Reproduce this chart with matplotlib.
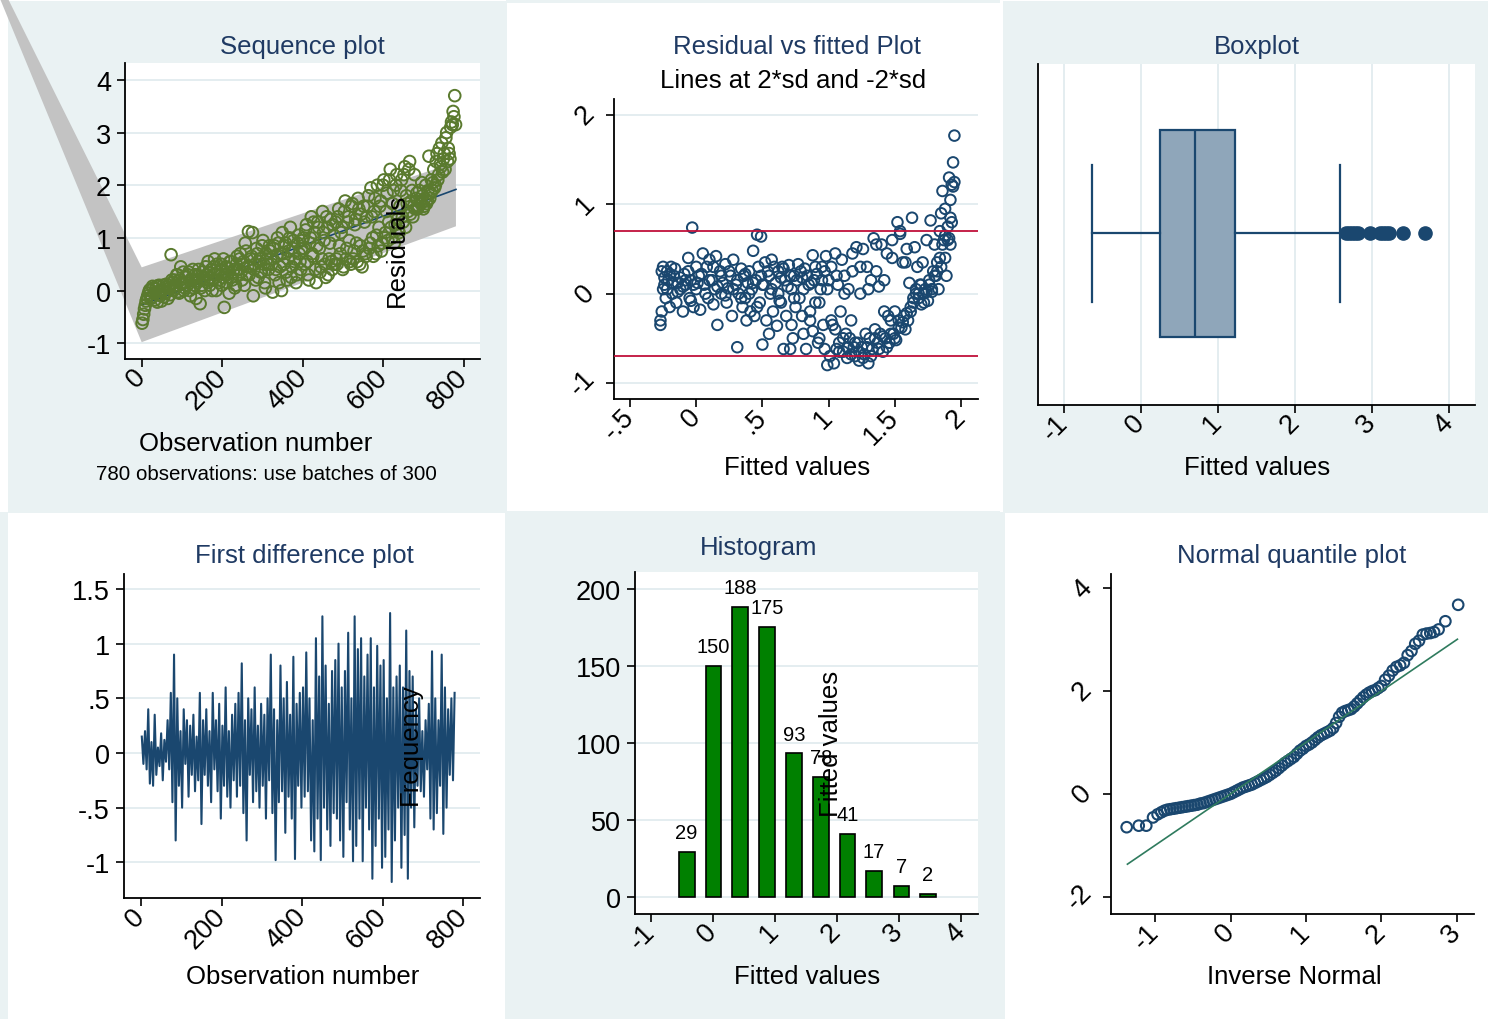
import matplotlib
matplotlib.use('Agg')
import matplotlib.pyplot as plt
from matplotlib.patches import Rectangle
import numpy as np

plt.rcParams['font.family'] = ['Liberation Sans', 'DejaVu Sans']

# ---------------------------------------------------------------
# data
# ---------------------------------------------------------------
# sequence plot (two interleaved samples, every 4th observation each)
seq_obs_a = np.arange(1, 781, 4)
seq_vals_a = [
    -0.62, -0.45, -0.28, -0.15, -0.05, 0.02, -0.12, 0.05, -0.18, 0.08, -0.08, 0.0, -0.2, 0.1, -0.05, 0.12, -0.15, 0.05, 0.68, 0.15,
    0.2, 0.05, 0.3, -0.05, 0.45, 0.15, 0.0, 0.25, 0.1, 0.35, -0.1, 0.2, 0.05, 0.3, 0.15, 0.4, -0.25, 0.1, 0.25, 0.0,
    0.3, 0.55, 0.1, 0.4, 0.2, 0.6, 0.0, 0.35, 0.15, 0.5, 0.25, -0.32, 0.45, 0.3, -0.05, 0.55, 0.2, 0.4, 0.1, 0.65,
    0.4, 0.7, 0.2, 0.55, 0.9, 0.3, 1.12, 0.45, 0.65, -0.1, 0.5, 0.8, 0.25, 0.6, 0.35, 0.95, 0.15, 0.7, 0.5, 0.85,
    0.6, -0.03, 0.85, 0.4, 1.0, 0.15, 0.7, 1.1, 0.5, 0.9, 0.2, 0.75, 1.2, 0.45, 0.95, 0.6, 0.3, 1.05, 0.55, 0.8,
    1.0, 0.5, 1.25, 0.3, 0.9, 1.4, 0.65, 1.1, 0.15, 1.3, 0.8, 0.45, 1.5, 0.95, 0.25, 1.2, 0.6, 1.35, 0.4, 1.05,
    1.3, 0.5, 1.55, 0.7, 1.2, 0.45, 1.7, 0.8, 1.4, 0.55, 1.6, 0.6, 1.25, 0.9, 1.75, 0.5, 1.45, 0.75, 1.3, 0.65,
    1.6, 0.8, 1.95, 1.0, 1.5, 0.7, 2.0, 1.2, 1.7, 0.9, 2.1, 1.1, 1.85, 1.3, 2.3, 1.0, 1.9, 1.25, 2.2, 1.15,
    1.6, 2.1, 1.3, 2.35, 1.8, 1.5, 2.45, 1.7, 1.4, 2.2, 1.75, 1.55, 1.9, 1.65, 1.8, 1.6, 2.0, 1.7, 2.55, 1.85,
    1.9, 2.3, 2.0, 2.6, 2.2, 2.4, 2.8, 2.5, 2.3, 3.0, 2.7, 2.5, 3.2, 3.4, 3.7,
]
seq_obs_b = np.arange(3, 781, 4)
seq_vals_b = [
    -0.55, -0.35, -0.2, -0.1, 0.0, -0.15, 0.08, -0.05, 0.03, -0.22, 0.1, -0.1, 0.0, -0.12, 0.06, -0.02, 0.1, -0.08, 0.2, 0.0,
    0.1, 0.3, -0.02, 0.2, 0.12, 0.35, 0.05, 0.15, 0.3, 0.0, 0.22, 0.4, 0.1, -0.15, 0.28, 0.18, 0.05, 0.35, 0.2, 0.45,
    0.15, 0.35, 0.25, 0.0, 0.45, 0.3, 0.5, 0.2, 0.38, 0.1, 0.6, 0.3, 0.15, 0.42, 0.55, 0.25, 0.35, 0.05, 0.5, 0.3,
    0.6, 0.35, 0.5, 0.1, 0.75, 0.45, 0.3, 0.6, 1.1, 0.4, 0.2, 0.7, 0.55, 0.35, 0.85, 0.5, 0.05, 0.6, 0.4, 0.75,
    0.5, 0.8, 0.3, 0.65, 0.9, 0.45, 0.0, 0.7, 0.85, 0.35, 0.6, 1.0, 0.25, 0.8, 0.55, 0.15, 0.9, 0.7, 0.4, 0.95,
    0.8, 1.15, 0.55, 0.2, 1.0, 0.7, 1.3, 0.4, 0.85, 1.2, 0.35, 0.6, 1.1, 0.5, 1.4, 0.3, 0.9, 0.55, 1.25, 0.5,
    0.6, 1.4, 0.85, 1.1, 0.4, 1.5, 0.6, 1.3, 0.95, 0.5, 1.65, 0.75, 1.35, 0.55, 1.55, 0.85, 0.45, 1.6, 0.7, 1.4,
    1.8, 0.9, 1.4, 0.65, 1.75, 1.05, 0.85, 1.6, 0.75, 2.0, 1.0, 1.5, 0.95, 2.1, 1.2, 1.65, 0.9, 2.0, 1.35, 1.1,
    1.9, 1.4, 2.2, 1.2, 1.65, 2.3, 1.45, 1.9, 1.6, 1.55, 1.85, 1.6, 1.7, 2.05, 1.55, 1.75, 1.65, 1.9, 1.75, 2.1,
    2.05, 1.95, 2.45, 2.1, 2.7, 2.35, 2.25, 2.6, 2.9, 2.45, 2.6, 3.1, 3.15, 3.3, 3.15,
]
fit_x = [0, 780]
fit_y = [-0.27, 1.92]
band_x_hi = [-331.8, 0, 780]
band_y_hi = [5.54, 0.44, 2.44]
band_x_lo = [-351.6, 0, 780]
band_y_lo = [5.54, -0.98, 1.22]

# residual vs fitted
rvf_fit = [
    -0.27, -0.27, -0.26, -0.25, -0.25, -0.24, -0.23, -0.22, -0.21, -0.2, -0.19, -0.18, -0.17, -0.15, -0.14, -0.12, -0.1, -0.09, -0.08, -0.06, -0.05, -0.04, -0.03, -0.02, 0.0, 0.0,
    0.02, 0.03, 0.05, 0.06, 0.08, 0.09, 0.1, 0.12, 0.13, 0.14, 0.15, 0.16, 0.18, 0.19, 0.2, 0.22, 0.23, 0.24, 0.26, 0.27, 0.28, 0.3, 0.31, 0.32, 0.34, 0.35, 0.36, 0.37, 0.38, 0.39, 0.4, 0.41, 0.42, 0.43, 0.44, 0.45, 0.46, 0.47, 0.48, 0.49, 0.5, 0.5,
    0.52, 0.53, 0.55, 0.56, 0.57, 0.58, 0.6, 0.61, 0.62, 0.63, 0.65, 0.66, 0.67, 0.68, 0.7, 0.71, 0.72, 0.73, 0.74, 0.75, 0.77, 0.78, 0.8, 0.81, 0.82, 0.83, 0.85, 0.86, 0.88, 0.89, 0.9, 0.91, 0.92, 0.94, 0.95, 0.96, 0.97, 0.98, 0.99, 1.0,
    1.01, 1.02, 1.03, 1.04, 1.05, 1.06, 1.07, 1.08, 1.09, 1.1, 1.11, 1.12, 1.13, 1.14, 1.15, 1.16, 1.17, 1.18, 1.19, 1.2, 1.21, 1.22, 1.23, 1.24, 1.25, 1.26, 1.27, 1.28, 1.29, 1.3,
    1.31, 1.32, 1.33, 1.34, 1.35, 1.36, 1.37, 1.38, 1.39, 1.4, 1.41, 1.42, 1.43, 1.44, 1.45, 1.46, 1.47, 1.48, 1.49, 1.5, 1.51, 1.52, 1.53, 1.54, 1.55, 1.56, 1.57, 1.58, 1.59, 1.6,
    1.61, 1.62, 1.63, 1.64, 1.65, 1.66, 1.67, 1.68, 1.69, 1.7, 1.71, 1.72, 1.73, 1.74, 1.75, 1.76, 1.77, 1.78, 1.79, 1.8,
    1.81, 1.82, 1.83, 1.84, 1.85, 1.85, 1.86, 1.87, 1.88, 1.88, 1.89, 1.9, 1.91, 1.91, 1.92, 1.92, 1.93, 1.94, 1.94, 1.95,
    # second pass over the dense parts
    -0.26, -0.24, -0.22, -0.2, -0.18, -0.16, -0.14, -0.12, -0.1, -0.08, -0.06, -0.04, -0.02, 0.01, 0.04, 0.07, 0.1, 0.13, 0.16, 0.19, 0.22, 0.25, 0.28, 0.31, 0.34, 0.37, 0.4, 0.43, 0.46, 0.49,
    0.51, 0.54, 0.57, 0.59, 0.62, 0.64, 0.66, 0.69, 0.71, 0.74, 0.76, 0.79, 0.81, 0.84, 0.86, 0.87, 0.9, 0.93, 0.95, 0.97, 0.99, 0.55, 0.64, 0.72, 0.8, 0.88, 0.93,
    1.02, 1.05, 1.08, 1.11, 1.14, 1.17, 1.2, 1.23, 1.26, 1.29, 1.32, 1.35, 1.38, 1.41, 1.44, 1.47, 1.5, 1.53, 1.56, 1.59, 1.06, 1.12, 1.18, 1.24, 1.3, 1.36, 1.42, 1.48, 1.54, 1.58,
    1.62, 1.64, 1.66, 1.68, 1.7, 1.72, 1.74, 1.76, 1.78, 1.8, 1.82, 1.84, 1.86, 1.88, 1.9, 1.92, 1.93, 1.95,
]
rvf_res = [
    -0.3, -0.35, -0.2, 0.05, 0.3, 0.1, -0.05, 0.25, 0.15, -0.15, 0.3, 0.0, 0.2, -0.1, 0.12, 0.05, -0.2, 0.22, 0.1, 0.4, -0.05, 0.15, 0.74, -0.15, 0.3, 0.05,
    0.2, -0.18, 0.45, 0.1, 0.3, -0.05, 0.38, 0.15, -0.12, 0.05, 0.42, -0.35, 0.25, 0.0, 0.12, 0.33, -0.1, 0.06, 0.2, -0.25, 0.38, 0.1, -0.6, 0.0, 0.28, -0.15, 0.2, -0.05, -0.3, 0.12, 0.25, -0.2, 0.05, 0.48, -0.25, 0.15, 0.66, 0.3, -0.1, 0.64, 0.1, -0.57,
    0.35, -0.3, 0.2, 0.0, 0.38, -0.2, 0.12, -0.36, 0.25, -0.08, 0.3, -0.62, 0.15, -0.25, 0.32, -0.62, 0.05, -0.5, 0.2, -0.15, 0.33, -0.05, 0.18, -0.45, 0.28, -0.62, 0.1, -0.2, 0.43, 0.15, -0.1, 0.22, -0.55, 0.05, 0.3, -0.35, -0.62, 0.42, -0.8, 0.15,
    -0.7, 0.3, -0.35, -0.78, 0.45, -0.62, 0.1, -0.55, -0.2, 0.38, -0.65, 0.2, -0.45, -0.72, 0.05, -0.5, -0.3, 0.25, -0.6, -0.7, 0.52, -0.55, -0.75, 0.0, -0.6, 0.5, -0.68, -0.45, 0.3, -0.78,
    -0.5, 0.15, -0.62, 0.62, -0.4, 0.25, -0.55, 0.08, -0.45, 0.55, -0.65, -0.2, -0.5, 0.45, -0.25, -0.55, -0.3, 0.4, -0.45, -0.2, -0.52, 0.8, -0.3, 0.67, -0.38, 0.35, -0.25, -0.4, 0.5, -0.3,
    0.12, -0.2, 0.85, -0.1, 0.52, 0.0, 0.3, -0.05, 0.1, -0.12, 0.35, 0.0, 0.05, 0.6, -0.08, 0.15, 0.82, 0.02, 0.25, 0.55,
    0.2, 0.35, 0.05, 0.7, 0.9, 0.3, 1.15, 0.6, 0.4, 0.95, 0.2, 0.75, 1.3, 0.62, 1.05, 0.85, 1.22, 1.47, 1.2, 1.77,
    0.25, 0.18, 0.05, 0.22, 0.12, 0.28, 0.02, 0.18, 0.08, 0.15, 0.25, -0.08, 0.1, 0.12, 0.22, 0.0, 0.15, 0.3, 0.08, 0.2, -0.02, 0.25, 0.05, 0.15, -0.05, 0.22, 0.0, 0.12, -0.15, 0.2,
    0.1, 0.25, 0.05, 0.3, 0.0, 0.18, 0.28, 0.08, 0.2, -0.05, 0.15, 0.25, 0.05, 0.2, -0.3, 0.12, 0.3, -0.1, 0.15, 0.25, 0.05, -0.45, -0.1, -0.35, -0.25, -0.42, -0.5,
    -0.3, -0.4, -0.65, -0.5, -0.6, -0.68, -0.55, -0.65, -0.72, -0.6, -0.7, -0.5, -0.62, -0.48, -0.6, -0.45, -0.5, -0.38, -0.32, -0.22, 0.2, 0.0, 0.45, 0.3, 0.05, 0.55, 0.15, 0.6, 0.7, 0.35,
    -0.15, -0.05, 0.05, 0.0, 0.1, -0.1, 0.02, 0.1, 0.05, 0.2, 0.25, 0.4, 0.55, 0.65, 0.6, 0.55, 0.8, 1.25,
]
sd_lines = [0.70, -0.70]

# boxplot summary
box_q1, box_med, box_q3 = 0.25, 0.70, 1.22
box_lo, box_hi = -0.64, 2.58
box_out = [2.66, 2.70, 2.74, 2.78, 2.82, 2.98, 3.10, 3.14, 3.18, 3.22, 3.40, 3.69]

# first differences (every 4th observation)
fd_obs = np.arange(2, 781, 4)
fd_vals = [
    0.15, -0.1, 0.2, -0.15, 0.4, -0.28, 0.1, -0.3, 0.35, -0.2, 0.05, -0.12, 0.18, -0.25, 0.12, -0.08, 0.3, -0.15, 0.55, -0.45,
    0.9, -0.8, 0.5, -0.3, 0.2, -0.5, 0.4, -0.1, 0.3, -0.4, 0.25, -0.2, 0.35, -0.35, 0.15, -0.25, 0.55, -0.65, 0.3, -0.2,
    0.4, -0.3, 0.2, -0.45, 0.55, -0.15, 0.3, -0.35, 0.45, -0.6, 0.25, -0.3, 0.6, -0.4, 0.2, -0.5, 0.35, -0.25, 0.45, -0.4,
    0.55, -0.3, 0.82, -0.55, 0.3, -0.8, 0.5, -0.2, 0.4, -0.45, 0.6, -0.35, 0.25, -0.5, 0.45, -0.3, 0.35, -0.6, 0.5, -0.25,
    0.9, -0.55, 0.4, -0.98, 0.3, -0.45, 0.8, -0.35, 0.5, -0.73, 0.65, -0.4, 0.35, -0.6, 0.88, -0.97, 0.45, -0.3, 0.55, -0.5,
    0.6, -0.4, 0.92, -0.35, 0.5, -0.8, 0.3, -0.9, 1.05, -0.6, 0.7, -0.98, 1.25, -0.5, 0.8, -0.7, 0.45, -0.85, 0.75, -0.55,
    0.85, -0.6, 1.0, -0.8, 0.6, -0.95, 0.75, -0.45, 1.1, -0.7, 0.5, -0.99, 1.25, -0.85, 0.95, -0.6, 1.05, -0.99, 0.7, -0.5,
    0.9, -0.7, 1.05, -1.15, 0.6, -0.85, 0.98, -0.6, 0.8, -1.05, 0.85, -0.95, 0.5, -0.7, 1.28, -1.18, 0.6, -0.8, 0.7, -0.5,
    0.8, -1.05, 0.6, -0.75, 1.12, -1.15, 0.75, -0.5, 0.7, -0.68, 0.4, -0.3, 0.5, -0.35, 0.2, -0.4, 0.3, -0.15, 0.45, -0.6,
    0.93, -0.7, 0.5, -0.55, 0.3, -0.3, 0.9, -0.74, 0.6, -0.5, 0.4, -0.2, 0.5, -0.25, 0.55,
]

# histogram
hist_mid = [-0.42, 0.01, 0.44, 0.88, 1.31, 1.74, 2.17, 2.60, 3.04, 3.47]
hist_cnt = [29, 150, 188, 175, 93, 78, 41, 17, 7, 2]

# normal quantile plot
qq_x = [-1.38, -1.22, -1.12, -1.03, -0.97, -0.92, -0.88, -0.84, -0.80, -0.76, -0.72, -0.68, -0.64, -0.60, -0.56, -0.52,
        -0.48, -0.44, -0.40, -0.36, -0.32, -0.28, -0.24, -0.20, -0.16, -0.12, -0.08, -0.04, 0.0, 0.04, 0.08, 0.12,
        0.16, 0.20, 0.24, 0.28, 0.32, 0.36, 0.40, 0.44, 0.48, 0.52, 0.56, 0.60, 0.64, 0.68, 0.72, 0.76, 0.80, 0.84,
        0.88, 0.92, 0.96, 1.00, 1.04, 1.08, 1.12, 1.16, 1.20, 1.24, 1.28, 1.32, 1.36, 1.40, 1.44, 1.48, 1.52, 1.56,
        1.60, 1.64, 1.68, 1.72, 1.76, 1.80, 1.84, 1.88, 1.92, 1.96, 2.00, 2.05, 2.10, 2.15, 2.20, 2.25, 2.30, 2.35,
        2.40, 2.45, 2.50, 2.55, 2.60, 2.65, 2.70, 2.76, 2.85, 3.02]
qq_y = [-0.65, -0.62, -0.62, -0.46, -0.40, -0.36, -0.33, -0.31, -0.30, -0.29, -0.28, -0.27, -0.26, -0.25, -0.24, -0.23,
        -0.22, -0.21, -0.19, -0.18, -0.16, -0.14, -0.12, -0.10, -0.08, -0.06, -0.04, -0.02, 0.0, 0.03, 0.06, 0.09,
        0.12, 0.14, 0.16, 0.18, 0.21, 0.24, 0.27, 0.30, 0.33, 0.37, 0.41, 0.45, 0.50, 0.55, 0.60, 0.64, 0.68, 0.72,
        0.78, 0.84, 0.88, 0.93, 0.96, 1.00, 1.05, 1.10, 1.14, 1.17, 1.20, 1.23, 1.28, 1.38, 1.50, 1.58, 1.61, 1.63,
        1.65, 1.70, 1.76, 1.82, 1.88, 1.93, 1.97, 2.00, 2.02, 2.06, 2.10, 2.22, 2.30, 2.40, 2.47, 2.50, 2.55, 2.70,
        2.78, 2.92, 2.98, 3.10, 3.12, 3.13, 3.15, 3.20, 3.36, 3.68]
qq_line_x = [-1.37, 3.01]
qq_line_y = [-1.37, 3.01]

# ---------------------------------------------------------------
W, H = 1488, 1020
BG = '#EAF2F3'
NAVY = '#1A476F'
TITLE_C = '#1F3A63'
GRID_C = '#E4EDF0'
FS = 18.5
TFS = 19.5

fig = plt.figure(figsize=(W / 100, H / 100), dpi=100, facecolor=BG)


def px_rect(x0, y0, x1, y1, color):
    fig.patches.append(Rectangle((x0 / W, 1 - y1 / H), (x1 - x0) / W, (y1 - y0) / H,
                                 transform=fig.transFigure, color=color, zorder=-5, lw=0))


# white cells / margins
px_rect(0, 0, 8, 513, 'white')
px_rect(0, 0, 506, 2, 'white')
px_rect(507, 4, 1003, 512, 'white')
px_rect(1003, 0, 1488, 2, 'white')
px_rect(1000, 0, 1003, 513, 'white')
px_rect(8, 514, 505, 1020, 'white')
px_rect(1005, 514, 1488, 1020, 'white')


def px_axes(l, t, r, b):
    ax = fig.add_axes([l / W, 1 - b / H, (r - l) / W, (b - t) / H])
    ax.set_facecolor('white')
    for s in ['top', 'right']:
        ax.spines[s].set_visible(False)
    for s in ['left', 'bottom']:
        ax.spines[s].set_linewidth(1.3)
        ax.spines[s].set_color('black')
    ax.tick_params(length=6, width=1.2, labelsize=TFS, pad=4, color='black')
    return ax


def ftext(x, y, s, **kw):
    kw.setdefault('fontsize', FS)
    fig.text(x / W, 1 - y / H, s, ha='center', va='center', **kw)


def rot_x(ax, ticks, labels):
    ax.set_xticks(ticks, labels)
    for lab in ax.get_xticklabels():
        lab.set_rotation(45)
        lab.set_ha('right')
        lab.set_va('center')
        lab.set_rotation_mode('anchor')


def rot_y(ax, ticks, labels):
    ax.set_yticks(ticks, labels)
    for lab in ax.get_yticklabels():
        lab.set_rotation(45)
        lab.set_ha('right')
        lab.set_va('center')


def hgrid(ax, ticks):
    for t in ticks:
        ax.axhline(t, color=GRID_C, lw=1.4, zorder=0.2)


# 1. sequence plot
ax1 = px_axes(125, 64, 480, 360)
ax1.set_xlim(-41.4, 839.7)
ax1.set_ylim(-1.30, 4.32)
hgrid(ax1, [-1, 0, 1, 2, 3, 4])
ax1.fill(band_x_hi + band_x_lo[::-1], band_y_hi + band_y_lo[::-1],
         color='#C3C3C3', lw=0, clip_on=False, zorder=1)
ax1.plot(fit_x, fit_y, color=NAVY, lw=1.2, zorder=2)
ax1.scatter(seq_obs_a, seq_vals_a, s=70, facecolors='none', edgecolors='#5A7A2E', linewidths=1.4, zorder=3)
ax1.scatter(seq_obs_b, seq_vals_b, s=70, facecolors='none', edgecolors='#5A7A2E', linewidths=1.4, zorder=3)
rot_x(ax1, [0, 200, 400, 600, 800], ['0', '200', '400', '600', '800'])
ax1.set_yticks([-1, 0, 1, 2, 3, 4], ['-1', '0', '1', '2', '3', '4'])
ftext(302, 47, 'Sequence plot', color=TITLE_C)
ftext(256, 444, 'Observation number')
ftext(266, 475, '780 observations: use batches of 300', fontsize=14.8)
ftext(397, 250, 'Residuals', rotation=90)

# 2. residual vs fitted
ax2 = px_axes(613.7, 100, 977.7, 400)
ax2.set_xlim(-0.623, 2.126)
ax2.set_ylim(-1.18, 2.18)
hgrid(ax2, [-1, 0, 1, 2])
ax2.scatter(rvf_fit, rvf_res, s=58, facecolors='none', edgecolors=NAVY, linewidths=1.4, zorder=3)
for v in sd_lines:
    ax2.axhline(v, color='#C0103A', lw=1.3, zorder=4)
rot_x(ax2, [-0.5, 0, 0.5, 1, 1.5, 2], ['-.5', '0', '.5', '1', '1.5', '2'])
rot_y(ax2, [-1, 0, 1, 2], ['-1', '0', '1', '2'])
ftext(797, 47, 'Residual vs fitted Plot', color=TITLE_C)
ftext(793, 81, 'Lines at 2*sd and -2*sd')
ftext(797, 468, 'Fitted values')

# 3. boxplot
ax3 = px_axes(1037.7, 65, 1475, 405.7)
ax3.set_xlim(-1.342, 4.338)
ax3.set_ylim(0, 1)
for t in [-1, 0, 1, 2, 3, 4]:
    ax3.axvline(t, color=GRID_C, lw=1.4, zorder=0.2)
stats = [{'med': box_med, 'q1': box_q1, 'q3': box_q3, 'whislo': box_lo, 'whishi': box_hi,
          'fliers': np.array(box_out)}]
ax3.bxp(stats, positions=[0.503], widths=0.6076, capwidths=0.404, orientation='horizontal',
        patch_artist=True, manage_ticks=False,
        boxprops=dict(facecolor='#8FA6BA', edgecolor=NAVY, lw=1.6),
        medianprops=dict(color=NAVY, lw=1.6),
        whiskerprops=dict(color=NAVY, lw=1.6),
        capprops=dict(color=NAVY, lw=1.6),
        flierprops=dict(marker='o', markersize=9.5, markerfacecolor=NAVY, markeredgecolor=NAVY))
ax3.set_yticks([])
rot_x(ax3, [-1, 0, 1, 2, 3, 4], ['-1', '0', '1', '2', '3', '4'])
ftext(1257, 47, 'Boxplot', color=TITLE_C)
ftext(1257, 468, 'Fitted values')

# 4. first difference
ax4 = px_axes(123.7, 575, 480, 899.3)
ax4.set_xlim(-42.9, 841)
ax4.set_ylim(-1.329, 1.637)
hgrid(ax4, [-1, -0.5, 0, 0.5, 1, 1.5])
ax4.plot(fd_obs, fd_vals, color=NAVY, lw=1.5)
rot_x(ax4, [0, 200, 400, 600, 800], ['0', '200', '400', '600', '800'])
ax4.set_yticks([-1, -0.5, 0, 0.5, 1, 1.5], ['-1', '-.5', '0', '.5', '1', '1.5'])
ftext(304, 556, 'First difference plot', color=TITLE_C)
ftext(303, 977, 'Observation number')
ftext(410, 744, 'Frequency', rotation=90)

# 5. histogram
ax5 = px_axes(635, 573.3, 978.3, 914.7)
ax5.set_xlim(-1.253, 4.28)
ax5.set_ylim(-11.0, 210.6)
hgrid(ax5, [0, 50, 100, 150, 200])
bars = ax5.bar(hist_mid, hist_cnt, width=0.253, color='#008000', edgecolor='black', lw=1.2, zorder=3)
ax5.bar_label(bars, padding=7, fontsize=14.5)
rot_x(ax5, [-1, 0, 1, 2, 3, 4], ['-1', '0', '1', '2', '3', '4'])
ax5.set_yticks([0, 50, 100, 150, 200], ['0', '50', '100', '150', '200'])
ftext(759, 548, 'Histogram', color=TITLE_C)
ftext(807, 977, 'Fitted values')
ftext(831, 744, 'Fitted values', rotation=90)

# 6. normal quantile plot
ax6 = px_axes(1110.7, 575, 1474, 915)
ax6.set_xlim(-1.592, 3.23)
ax6.set_ylim(-2.34, 4.28)
ax6.scatter(qq_x, qq_y, s=58, facecolors='none', edgecolors=NAVY, linewidths=1.5, zorder=3)
ax6.plot(qq_line_x, qq_line_y, color='#2F7B5E', lw=1.2, zorder=4)
rot_x(ax6, [-1, 0, 1, 2, 3], ['-1', '0', '1', '2', '3'])
rot_y(ax6, [-2, 0, 2, 4], ['-2', '0', '2', '4'])
ftext(1292, 556, 'Normal quantile plot', color=TITLE_C)
ftext(1294, 977, 'Inverse Normal')

fig.savefig('out.png', dpi=100, facecolor=BG)
